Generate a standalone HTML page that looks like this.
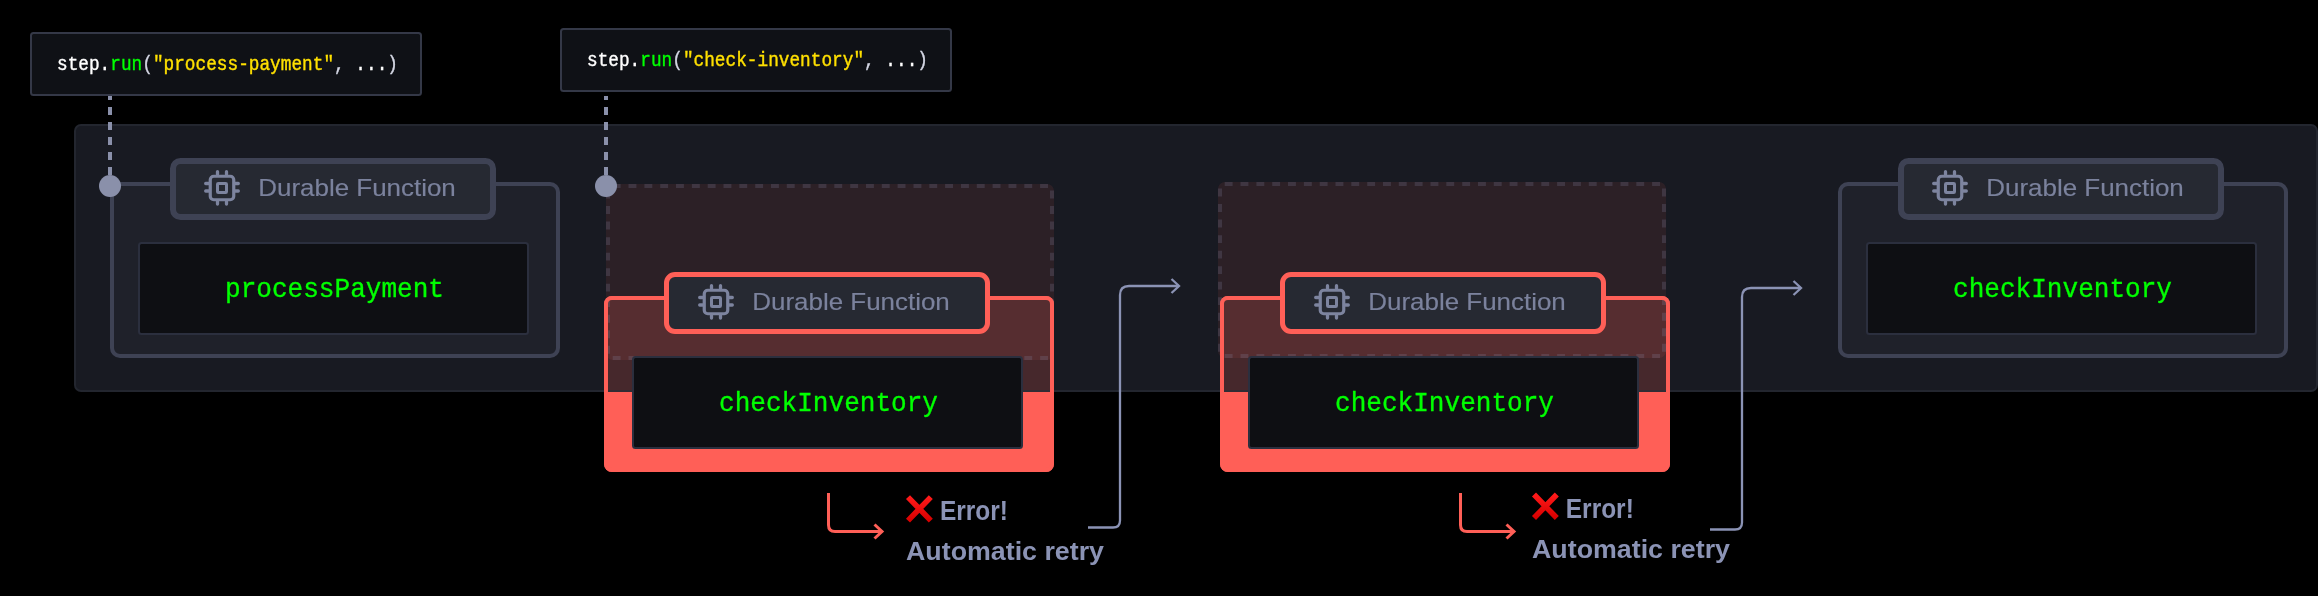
<!DOCTYPE html>
<html>
<head>
<meta charset="utf-8">
<style>
html,body{margin:0;padding:0;background:#000;}
body{width:2318px;height:596px;overflow:hidden;}
svg{display:block;will-change:transform;}
.mono{font-family:"Liberation Mono",monospace;}
.sans{font-family:"Liberation Sans",sans-serif;}
</style>
</head>
<body>
<svg width="2318" height="596" viewBox="0 0 2318 596">
<defs>
  <g id="cpu" fill="none" stroke="#7d849f" stroke-width="3.3" stroke-linecap="round">
    <rect x="-11.75" y="-11.75" width="23.5" height="23.5" rx="3.5" stroke-width="3.2"/>
    <rect x="-4.5" y="-4.5" width="9" height="9" rx="0.8" stroke-width="3"/>
    <path d="M-4.5 -13.4V-16.3M4.5 -13.4V-16.3M-4.5 13.4V16.1M4.5 13.4V16.1M-13.4 -4.5H-16.3M-13.4 3H-16.3M13.4 -4.5H16.3M13.4 3H16.3"/>
  </g>
  <linearGradient id="xg" x1="0" y1="0" x2="0" y2="1">
    <stop offset="0" stop-color="#ff1a1a"/>
    <stop offset="1" stop-color="#d80000"/>
  </linearGradient>
  <g id="xmark" stroke="url(#xg)" stroke-width="5.6" stroke-linecap="butt">
    <path d="M2 1.5L24.8 25M24.8 1.5L2 25"/>
  </g>
</defs>

<rect x="0" y="0" width="2318" height="596" fill="#000"/>
<rect x="31" y="33" width="390" height="62" rx="2.5" fill="#0f1116" stroke="#343847" stroke-width="2"/>
<text class="mono" transform="translate(57 70) scale(1 1.1)" x="0" y="0" font-size="18.6" stroke-width="0.35" textLength="341" lengthAdjust="spacingAndGlyphs"><tspan fill="#ffffff" stroke="#ffffff">step.</tspan><tspan fill="#00ff00" stroke="#00ff00">run</tspan><tspan fill="#d4d7e4" stroke="#d4d7e4">(</tspan><tspan fill="#ffe000" stroke="#ffe000">"process-payment"</tspan><tspan fill="#d4d7e4" stroke="#d4d7e4">, </tspan><tspan fill="#ffffff" stroke="#ffffff">...</tspan><tspan fill="#d4d7e4" stroke="#d4d7e4">)</tspan></text>
<rect x="561" y="29" width="390" height="62" rx="2.5" fill="#0f1116" stroke="#343847" stroke-width="2"/>
<text class="mono" transform="translate(587 66) scale(1 1.1)" x="0" y="0" font-size="18.6" stroke-width="0.35" textLength="341" lengthAdjust="spacingAndGlyphs"><tspan fill="#ffffff" stroke="#ffffff">step.</tspan><tspan fill="#00ff00" stroke="#00ff00">run</tspan><tspan fill="#d4d7e4" stroke="#d4d7e4">(</tspan><tspan fill="#ffe000" stroke="#ffe000">"check-inventory"</tspan><tspan fill="#d4d7e4" stroke="#d4d7e4">, </tspan><tspan fill="#ffffff" stroke="#ffffff">...</tspan><tspan fill="#d4d7e4" stroke="#d4d7e4">)</tspan></text>
<rect x="75" y="125" width="2242" height="266" rx="6" fill="#181a22" stroke="#23262f" stroke-width="2"/>
<path d="M110 96V180M606 96V180" stroke="#8a90aa" stroke-width="4" stroke-dasharray="8 7" stroke-dashoffset="4"/>
<rect x="112" y="184" width="446" height="172" rx="8" fill="#1f212a" stroke="#3e4254" stroke-width="4"/>
<rect x="173" y="161" width="320" height="56" rx="7.5" fill="#262932" stroke="#3e4254" stroke-width="6"/>
<use href="#cpu" x="222" y="188"/>
<text class="sans" x="258.3" y="196" font-size="24" fill="#7b829d" stroke="#7b829d" stroke-width="0.15" textLength="197.5" lengthAdjust="spacingAndGlyphs">Durable Function</text>
<rect x="139" y="243" width="389" height="91" rx="2.5" fill="#0e0f13" stroke="#2b2f3e" stroke-width="2"/>
<text class="mono" x="334.5" y="297" text-anchor="middle" font-size="27.5" fill="#00ff00" stroke="#00ff00" stroke-width="0.35" textLength="219" lengthAdjust="spacingAndGlyphs">processPayment</text>
<circle cx="110" cy="186" r="11" fill="#8a90aa"/>
<rect x="604" y="296" width="450" height="176" rx="8" fill="#ff5f57"/>
<rect x="608" y="300" width="442" height="92" fill="#181a22" fill-opacity="0.8"/>
<rect x="608" y="390" width="442" height="2" fill="#2a2d38" fill-opacity="0.7"/>
<rect x="606" y="184" width="448" height="176" rx="7" fill="#ff5f57" fill-opacity="0.09"/>
<path d="M612.7 186h7.9M612.7 358h7.9M628.5 186h7.9M628.5 358h7.9M644.4 186h7.9M644.4 358h7.9M660.2 186h7.9M660.2 358h7.9M676.0 186h7.9M676.0 358h7.9M691.9 186h7.9M691.9 358h7.9M707.7 186h7.9M707.7 358h7.9M723.5 186h7.9M723.5 358h7.9M739.3 186h7.9M739.3 358h7.9M755.2 186h7.9M755.2 358h7.9M771.0 186h7.9M771.0 358h7.9M786.8 186h7.9M786.8 358h7.9M802.7 186h7.9M802.7 358h7.9M818.5 186h7.9M818.5 358h7.9M834.3 186h7.9M834.3 358h7.9M850.2 186h7.9M850.2 358h7.9M866.0 186h7.9M866.0 358h7.9M881.8 186h7.9M881.8 358h7.9M897.6 186h7.9M897.6 358h7.9M913.5 186h7.9M913.5 358h7.9M929.3 186h7.9M929.3 358h7.9M945.1 186h7.9M945.1 358h7.9M961.0 186h7.9M961.0 358h7.9M976.8 186h7.9M976.8 358h7.9M992.6 186h7.9M992.6 358h7.9M1008.5 186h7.9M1008.5 358h7.9M1024.3 186h7.9M1024.3 358h7.9M1040.1 186h7.9M1040.1 358h7.9M608 190.6v7.9M1052 190.6v7.9M608 206.1v7.9M1052 206.1v7.9M608 221.6v7.9M1052 221.6v7.9M608 237.2v7.9M1052 237.2v7.9M608 252.7v7.9M1052 252.7v7.9M608 268.2v7.9M1052 268.2v7.9M608 283.7v7.9M1052 283.7v7.9M608 299.2v7.9M1052 299.2v7.9M608 314.8v7.9M1052 314.8v7.9M608 330.3v7.9M1052 330.3v7.9M608 345.8v7.9M1052 345.8v7.9" stroke="#8b93b5" stroke-opacity="0.2" stroke-width="4" fill="none"/>
<rect x="606" y="298" width="446" height="172" rx="6" fill="none" stroke="#ff5f57" stroke-width="4"/>
<rect x="666.5" y="274.5" width="321" height="57" rx="8.5" fill="#262932" stroke="#ff5f57" stroke-width="5"/>
<use href="#cpu" x="716" y="302"/>
<text class="sans" x="752.3" y="310" font-size="24" fill="#7b829d" stroke="#7b829d" stroke-width="0.15" textLength="197.5" lengthAdjust="spacingAndGlyphs">Durable Function</text>
<rect x="633" y="357" width="389" height="91" rx="2.5" fill="#0e0f13" stroke="#2b2f3e" stroke-width="2"/>
<text class="mono" x="828.5" y="411" text-anchor="middle" font-size="27.5" fill="#00ff00" stroke="#00ff00" stroke-width="0.35" textLength="219" lengthAdjust="spacingAndGlyphs">checkInventory</text>
<circle cx="606" cy="186" r="11" fill="#8a90aa"/>
<rect x="1220" y="296" width="450" height="176" rx="8" fill="#ff5f57"/>
<rect x="1224" y="300" width="442" height="92" fill="#181a22" fill-opacity="0.8"/>
<rect x="1224" y="390" width="442" height="2" fill="#2a2d38" fill-opacity="0.7"/>
<rect x="1218" y="182" width="448" height="176" rx="7" fill="#ff5f57" fill-opacity="0.09"/>
<path d="M1224.7 184h7.9M1224.7 356h7.9M1240.5 184h7.9M1240.5 356h7.9M1256.4 184h7.9M1256.4 356h7.9M1272.2 184h7.9M1272.2 356h7.9M1288.0 184h7.9M1288.0 356h7.9M1303.9 184h7.9M1303.9 356h7.9M1319.7 184h7.9M1319.7 356h7.9M1335.5 184h7.9M1335.5 356h7.9M1351.3 184h7.9M1351.3 356h7.9M1367.2 184h7.9M1367.2 356h7.9M1383.0 184h7.9M1383.0 356h7.9M1398.8 184h7.9M1398.8 356h7.9M1414.7 184h7.9M1414.7 356h7.9M1430.5 184h7.9M1430.5 356h7.9M1446.3 184h7.9M1446.3 356h7.9M1462.2 184h7.9M1462.2 356h7.9M1478.0 184h7.9M1478.0 356h7.9M1493.8 184h7.9M1493.8 356h7.9M1509.6 184h7.9M1509.6 356h7.9M1525.5 184h7.9M1525.5 356h7.9M1541.3 184h7.9M1541.3 356h7.9M1557.1 184h7.9M1557.1 356h7.9M1573.0 184h7.9M1573.0 356h7.9M1588.8 184h7.9M1588.8 356h7.9M1604.6 184h7.9M1604.6 356h7.9M1620.5 184h7.9M1620.5 356h7.9M1636.3 184h7.9M1636.3 356h7.9M1652.1 184h7.9M1652.1 356h7.9M1220 188.6v7.9M1664 188.6v7.9M1220 204.1v7.9M1664 204.1v7.9M1220 219.6v7.9M1664 219.6v7.9M1220 235.2v7.9M1664 235.2v7.9M1220 250.7v7.9M1664 250.7v7.9M1220 266.2v7.9M1664 266.2v7.9M1220 281.7v7.9M1664 281.7v7.9M1220 297.2v7.9M1664 297.2v7.9M1220 312.8v7.9M1664 312.8v7.9M1220 328.3v7.9M1664 328.3v7.9M1220 343.8v7.9M1664 343.8v7.9" stroke="#8b93b5" stroke-opacity="0.2" stroke-width="4" fill="none"/>
<rect x="1222" y="298" width="446" height="172" rx="6" fill="none" stroke="#ff5f57" stroke-width="4"/>
<rect x="1282.5" y="274.5" width="321" height="57" rx="8.5" fill="#262932" stroke="#ff5f57" stroke-width="5"/>
<use href="#cpu" x="1332" y="302"/>
<text class="sans" x="1368.3" y="310" font-size="24" fill="#7b829d" stroke="#7b829d" stroke-width="0.15" textLength="197.5" lengthAdjust="spacingAndGlyphs">Durable Function</text>
<rect x="1249" y="357" width="389" height="91" rx="2.5" fill="#0e0f13" stroke="#2b2f3e" stroke-width="2"/>
<text class="mono" x="1444.5" y="411" text-anchor="middle" font-size="27.5" fill="#00ff00" stroke="#00ff00" stroke-width="0.35" textLength="219" lengthAdjust="spacingAndGlyphs">checkInventory</text>
<rect x="1840" y="184" width="446" height="172" rx="8" fill="#1f212a" stroke="#3e4254" stroke-width="4"/>
<rect x="1901" y="161" width="320" height="56" rx="7.5" fill="#262932" stroke="#3e4254" stroke-width="6"/>
<use href="#cpu" x="1950" y="188"/>
<text class="sans" x="1986.3" y="196" font-size="24" fill="#7b829d" stroke="#7b829d" stroke-width="0.15" textLength="197.5" lengthAdjust="spacingAndGlyphs">Durable Function</text>
<rect x="1867" y="243" width="389" height="91" rx="2.5" fill="#0e0f13" stroke="#2b2f3e" stroke-width="2"/>
<text class="mono" x="2062.5" y="297" text-anchor="middle" font-size="27.5" fill="#00ff00" stroke="#00ff00" stroke-width="0.35" textLength="219" lengthAdjust="spacingAndGlyphs">checkInventory</text>
<g fill="none" stroke="#ff5f57" stroke-width="3">
<path d="M828.5 493V525Q828.5 531.5 835.0 531.5H882.0"/><path d="M874.5 524.5L882.0 531.5L874.5 538.5"/>
<path d="M1460.5 493V525Q1460.5 531.5 1467.0 531.5H1514.0"/><path d="M1506.5 524.5L1514.0 531.5L1506.5 538.5"/>
</g>
<g fill="none" stroke="#8b93b5" stroke-width="2.3">
<path d="M1088 527.5H1113Q1120 527.5 1120 520.5V295Q1120 286 1129 286H1178.5"/><path d="M1171.5 279L1179 286L1171.5 293"/>
<path d="M1710 529.5H1735Q1742 529.5 1742 522.5V297Q1742 288 1751 288H1800.5"/><path d="M1793.5 281L1801 288L1793.5 295"/>
</g>
<use href="#xmark" x="906" y="495.6"/>
<text class="sans" x="940" y="520" font-size="26.8" font-weight="bold" fill="#8b93b5" textLength="68" lengthAdjust="spacingAndGlyphs">Error!</text>
<text class="sans" x="906" y="560" font-size="26" font-weight="bold" fill="#8b93b5" textLength="198" lengthAdjust="spacingAndGlyphs">Automatic retry</text>
<use href="#xmark" x="1532" y="493"/>
<text class="sans" x="1565.8" y="518.3" font-size="26.8" font-weight="bold" fill="#8b93b5" textLength="68" lengthAdjust="spacingAndGlyphs">Error!</text>
<text class="sans" x="1532" y="558" font-size="26" font-weight="bold" fill="#8b93b5" textLength="198" lengthAdjust="spacingAndGlyphs">Automatic retry</text>

</svg>
</body>
</html>
